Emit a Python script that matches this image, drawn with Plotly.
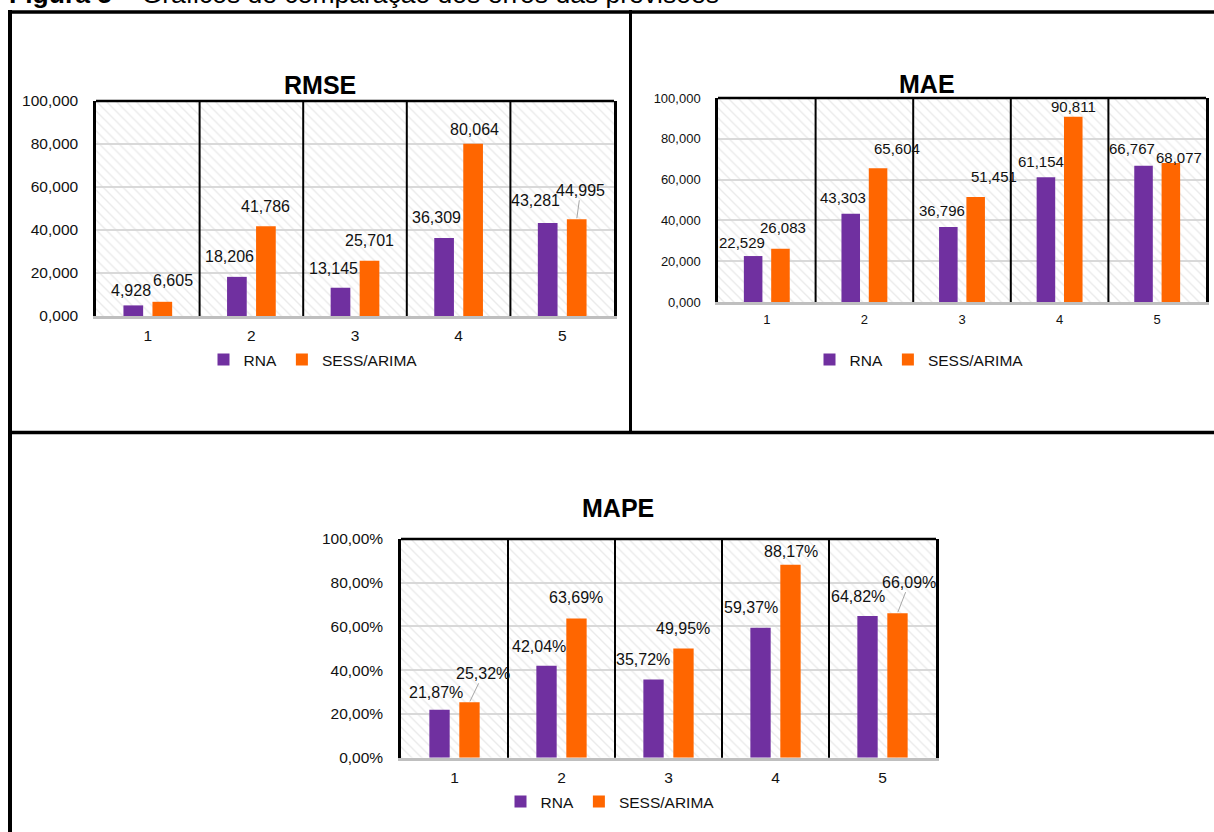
import plotly.graph_objects as go

# ---------------- data ----------------
categories = [1, 2, 3, 4, 5]
cat_labels = ["1", "2", "3", "4", "5"]
series_names = ["RNA", "SESS/ARIMA"]

rmse_rna = [4.928, 18.206, 13.145, 36.309, 43.281]
rmse_sess = [6.605, 41.786, 25.701, 80.064, 44.995]

mae_rna = [22.529, 43.303, 36.796, 61.154, 66.767]
mae_sess = [26.083, 65.604, 51.451, 90.811, 68.077]

mape_rna = [21.87, 42.04, 35.72, 59.37, 64.82]
mape_sess = [25.32, 63.69, 49.95, 88.17, 66.09]

y_tickvals = [0, 20, 40, 60, 80, 100]
num_ticktext = ["0,000", "20,000", "40,000", "60,000", "80,000", "100,000"]
pct_ticktext = ["0,00%", "20,00%", "40,00%", "60,00%", "80,00%", "100,00%"]

caption = "<b>Figura 5</b> – Gráficos de comparação dos erros das previsões"

# ---------------- styles ----------------
W, H = 1214, 832
PURPLE = "#7030A0"
ORANGE = "#FF6600"
FONT = "Arial, Liberation Sans, sans-serif"
TXT = "#111111"
GROUP_SHIFT = 0.14
BAR_W = 0.19
Y_MAX = 100

# label offsets (px: dx, dy-up) and leader-line flags per label
rmse_off_rna = [(-2, 15), (-7, 20), (-7, 19), (-8, 20), (-12, 22)]
rmse_off_sess = [(11, 21), (0, 20), (0, 20), (1, 14), (4, 29)]
rmse_lead_sess = [False, False, False, False, True]

mae_off_rna = [(-11, 14), (-8, 16), (-6, 16), (-5, 16), (-12, 17)]
mae_off_sess = [(3, 21), (19, 20), (18, 21), (0, 10), (8, 6)]

mape_off_rna = [(-4, 17), (-8, 19), (-11, 20), (-10, 20), (-10, 19)]
mape_off_sess = [(14, 29), (0, 21), (0, 20), (1, 13), (12, 31)]
mape_lead_sess = [True, False, False, False, True]


def px2x(p):
    return p / W


def px2y(p):
    return 1 - p / H


panels = [
    dict(key="", title="RMSE", rna=rmse_rna, sess=rmse_sess, ticktext=num_ticktext,
         fmt=lambda v: f"{v:.3f}".replace(".", ","),
         xd=[px2x(96), px2x(614)], yd=[px2y(316), px2y(101)],
         tick_font=15.5, lab_font=16, off_r=rmse_off_rna, off_s=rmse_off_sess,
         lead_s=rmse_lead_sess, legend="legend",
         title_xy=(320, 85), legend_xy=(313, 360)),
    dict(key="2", title="MAE", rna=mae_rna, sess=mae_sess, ticktext=num_ticktext,
         fmt=lambda v: f"{v:.3f}".replace(".", ","),
         xd=[px2x(718), px2x(1206)], yd=[px2y(302), px2y(98)],
         tick_font=13, lab_font=15, off_r=mae_off_rna, off_s=mae_off_sess,
         lead_s=[False] * 5, legend="legend2",
         title_xy=(927, 84), legend_xy=(919, 360)),
    dict(key="3", title="MAPE", rna=mape_rna, sess=mape_sess, ticktext=pct_ticktext,
         fmt=lambda v: f"{v:.2f}".replace(".", ",") + "%",
         xd=[px2x(401), px2x(936)], yd=[px2y(757.7), px2y(539)],
         tick_font=15.5, lab_font=16, off_r=mape_off_rna, off_s=mape_off_sess,
         lead_s=mape_lead_sess, legend="legend3",
         title_xy=(618, 508), legend_xy=(610, 802)),
]

fig = go.Figure()
annotations = []
shapes = []
layout = dict(
    width=W, height=H, margin=dict(l=0, r=0, t=0, b=0, pad=0, autoexpand=False),
    paper_bgcolor="white", plot_bgcolor="white",
    barmode="overlay", showlegend=True,
    font=dict(family=FONT, color=TXT),
)

for p in panels:
    k = p["key"]
    xa, ya = "x" + k, "y" + k
    # hatched background
    fig.add_trace(go.Bar(
        x=[sum(categories) / len(categories)], y=[Y_MAX], width=[len(categories)],
        xaxis=xa, yaxis=ya, showlegend=False, hoverinfo="skip",
        marker=dict(color="rgba(0,0,0,0)", line=dict(width=0),
                    pattern=dict(shape="\\", fgcolor="#d6d6d6", bgcolor="rgba(0,0,0,0)",
                                 size=7, solidity=0.2)),
    ))
    fig.add_trace(go.Bar(
        x=categories, y=p["rna"], name=series_names[0], xaxis=xa, yaxis=ya,
        offset=-GROUP_SHIFT - BAR_W / 2, width=BAR_W,
        marker=dict(color=PURPLE, line=dict(width=0)), legend=p["legend"],
    ))
    fig.add_trace(go.Bar(
        x=categories, y=p["sess"], name=series_names[1], xaxis=xa, yaxis=ya,
        offset=GROUP_SHIFT - BAR_W / 2, width=BAR_W,
        marker=dict(color=ORANGE, line=dict(width=0)), legend=p["legend"],
    ))

    layout["xaxis" + k] = dict(
        domain=p["xd"], anchor=ya, range=[0.5, 5.5], tickvals=categories, ticktext=cat_labels,
        showgrid=False, zeroline=False, showline=True, linecolor="#BFBFBF", linewidth=2.5,
        ticks="", ticklabelstandoff=4, tickfont=dict(size=p["tick_font"], color=TXT),
        fixedrange=True, automargin=False,
    )
    layout["yaxis" + k] = dict(
        domain=p["yd"], anchor=xa, range=[0, Y_MAX], tickvals=y_tickvals, ticktext=p["ticktext"],
        showgrid=True, gridcolor="#D9D9D9", gridwidth=2, zeroline=False,
        showline=True, linecolor="black", linewidth=2.5, mirror=True,
        ticks="", ticklabelstandoff=12, tickfont=dict(size=p["tick_font"], color=TXT),
        fixedrange=True, automargin=False,
    )
    # top frame line
    shapes.append(dict(type="line", xref=xa + " domain", yref=ya + " domain",
                       x0=0, x1=1, y0=1, y1=1, line=dict(color="black", width=2.5)))
    # category separators (between categories)
    for c in categories[:-1]:
        shapes.append(dict(type="line", xref=xa, yref=ya + " domain", layer="above",
                           x0=c + 0.5, x1=c + 0.5, y0=0, y1=1,
                           line=dict(color="black", width=2)))

    # data labels
    for vals, offs, shift, leads in [
        (p["rna"], p["off_r"], -GROUP_SHIFT, [False] * 5),
        (p["sess"], p["off_s"], GROUP_SHIFT, p["lead_s"]),
    ]:
        for c, v, (dx, dy), lead in zip(categories, vals, offs, leads):
            a = dict(x=c + shift, y=v, xref=xa, yref=ya, text=p["fmt"](v),
                     font=dict(size=p["lab_font"], color=TXT, family=FONT))
            if lead:
                a.update(showarrow=True, arrowhead=0, arrowwidth=1, arrowcolor="#A6A6A6",
                         ax=dx, ay=-dy, standoff=1)
            else:
                a.update(showarrow=False, xanchor="center", yanchor="middle",
                         xshift=dx, yshift=dy)
            annotations.append(a)

    # title
    tx, ty = p["title_xy"]
    annotations.append(dict(x=px2x(tx), y=px2y(ty), xref="paper", yref="paper",
                            text="<b>" + p["title"] + "</b>", showarrow=False,
                            xanchor="center", yanchor="middle",
                            font=dict(size=25, color="black", family=FONT)))
    lx, ly = p["legend_xy"]
    layout[p["legend"]] = dict(orientation="h", x=px2x(lx), y=px2y(ly),
                               xanchor="center", yanchor="middle",
                               bgcolor="rgba(0,0,0,0)", font=dict(size=15.5, color=TXT),
                               itemwidth=30, traceorder="normal", itemclick=False,
                               itemdoubleclick=False)

# caption (cut off at the top edge, as in the reference)
annotations.append(dict(x=px2x(7), y=px2y(11), xref="paper", yref="paper",
                        xanchor="left", yanchor="bottom", showarrow=False,
                        text=caption,
                        font=dict(size=26.5, color="black", family=FONT)))

# outer frame lines
frame = dict(color="black", width=3.5)
shapes += [
    dict(type="line", xref="paper", yref="paper", x0=px2x(8), x1=1, y0=px2y(12), y1=px2y(12), line=frame),
    dict(type="line", xref="paper", yref="paper", x0=px2x(10), x1=px2x(10), y0=px2y(10), y1=0, line=dict(color="black", width=4)),
    dict(type="line", xref="paper", yref="paper", x0=px2x(630.5), x1=px2x(630.5), y0=px2y(10), y1=px2y(433), line=dict(color="black", width=3)),
    dict(type="line", xref="paper", yref="paper", x0=px2x(8), x1=1, y0=px2y(432.5), y1=px2y(432.5), line=frame),
]

layout["annotations"] = annotations
layout["shapes"] = shapes
fig.update_layout(**layout)
fig.write_html(
    "out.html",
    post_script="document.body.style.margin='0px';document.body.style.overflow='hidden';",
)
